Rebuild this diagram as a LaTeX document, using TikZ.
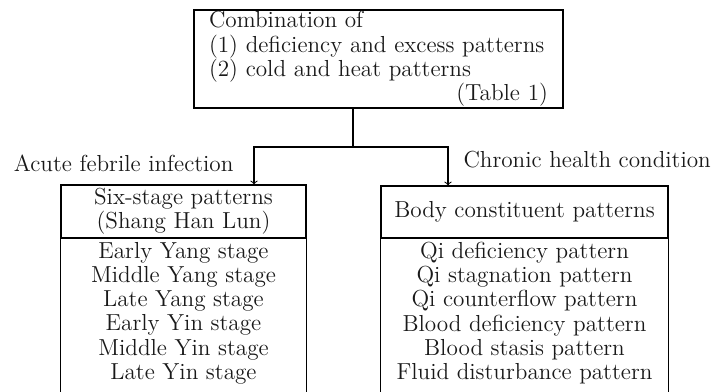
\documentclass[tikz,border=0pt]{standalone}
\usepackage{xcolor,tikz}
\usetikzlibrary{arrows,calc,positioning}
\tikzset{>=to}
\tikzset{
  txt/.style={font=\fontsize{13.2}{13.8}\selectfont, text=black!90},
  hdrbox/.style={draw, txt, align=center, inner sep=0pt},
  listtxt/.style={txt, align=center, inner sep=0pt}
}

\begin{document}
\begin{tikzpicture}[x=0.02cm,y=-0.02cm,line width=0.6pt]
\useasboundingbox (0,0) rectangle (718,392);
% top box
\node[draw, txt, minimum width=369*0.02cm, minimum height=98*0.02cm, text width=6.78cm, align=left, inner xsep=0.3cm, inner ysep=0pt] (combo) at (378.5,59)
{Combination of\\(1) deficiency and excess patterns\\(2) cold and heat patterns\\\hfill(Table 1)};
% column heads
\node[hdrbox, minimum width=245*0.02cm, minimum height=53*0.02cm] (sixhdr) at (183.5,211.5) {Six-stage patterns\\(Shang Han Lun)};
\node[hdrbox, minimum width=287*0.02cm, minimum height=52*0.02cm] (bodyhdr) at (524.5,212) {Body constituent patterns};
% lists
\node[listtxt] (sixlist) at (183.5,313) {Early Yang stage\\Middle Yang stage\\Late Yang stage\\Early Yin stage\\Middle Yin stage\\Late Yin stage};
\node[listtxt] (bodylist) at (524.5,313) {Qi deficiency pattern\\Qi stagnation pattern\\Qi counterflow pattern\\Blood deficiency pattern\\Blood stasis pattern\\Fluid disturbance pattern};
% sides run off the bottom
\coordinate (bot) at (0,392);
\draw (sixhdr.south west) -- (sixhdr.south west |- bot);
\draw (sixhdr.south east) -- (sixhdr.south east |- bot);
\draw (bodyhdr.south west) -- (bodyhdr.south west |- bot);
\draw (bodyhdr.south east) -- (bodyhdr.south east |- bot);
% branching
\coordinate (split) at (353,147);
\coordinate (inL) at (254,0);
\coordinate (inR) at (448,0);
\draw (combo.south -| split) -- (split);
\draw[->] (split) -| (sixhdr.north -| inL);
\draw[->] (split) -| (bodyhdr.north -| inR);
\node[txt, anchor=east, inner sep=0pt] (acute) at (234,163) {Acute febrile infection};
\node[txt, anchor=west, inner sep=0pt] (chronic) at (463,160) {Chronic health condition};
\end{tikzpicture}
\end{document}
